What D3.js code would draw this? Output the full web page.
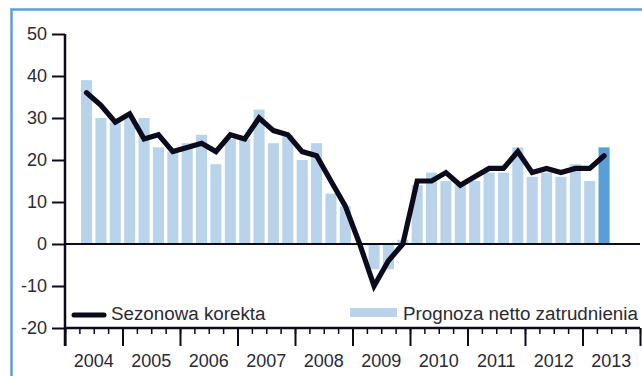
<!DOCTYPE html>
<html>
<head>
<meta charset="utf-8">
<script src="https://cdn.jsdelivr.net/npm/d3@7"></script>
<style>
  html, body { margin: 0; padding: 0; background: #ffffff; }
  svg { display: block; }
  text { font-family: "Liberation Sans", Arial, Helvetica, sans-serif; }
</style>
</head>
<body>
<svg id="chart" width="642" height="376"></svg>
<script>
// Years on the axis; each year holds four quarters
const years = ["2004", "2005", "2006", "2007", "2008", "2009", "2010", "2011", "2012", "2013"];
const quarterNames = ["Q1", "Q2", "Q3", "Q4"];

// First surveyed quarter (2004 Q2)
const firstQuarter = "2004 Q2";

// Net employment outlook (bars), from 2004 Q2 to 2013 Q2
const forecast = [
  39, 30, 29,
  30, 30, 23, 22,
  24, 26, 19, 25,
  25, 32, 24, 26,
  20, 24, 12, 9,
  0, -6, -6, 1,
  14, 17, 15, 14,
  15, 17, 17, 23,
  16, 17, 16, 19,
  15, 23
];

// Seasonally adjusted outlook (line), same quarters
const seasonal = [
  36, 33, 29,
  31, 25, 26, 22,
  23, 24, 22, 26,
  25, 30, 27, 26,
  22, 21, 15, 9,
  0, -10, -4, 0,
  15, 15, 17, 14,
  16, 18, 18, 22,
  17, 18, 17, 18,
  18, 21
];

const yTicks = [50, 40, 30, 20, 10, 0, -10, -20];
const legendLine = "Sezonowa korekta";
const legendBars = "Prognoza netto zatrudnienia";

const svg = d3.select("#chart");
const ink = "#0b0b1c";
const textColor = "#2b2a33";

// Outer frame
svg.append("rect")
  .attr("x", 11.5).attr("y", 9.5)
  .attr("width", 700).attr("height", 500)
  .attr("fill", "none")
  .attr("stroke", "#5b9fd6")
  .attr("stroke-width", 2.5);

const plotLeft = 65, plotRight = 640, plotTop = 34, plotBottom = 328;

// Quarter slots along the axis
const allQuarters = years.flatMap(yr => quarterNames.map(q => `${yr} ${q}`));
const start = allQuarters.indexOf(firstQuarter);
const dataQuarters = allQuarters.slice(start, start + forecast.length);
const rows = dataQuarters.map((q, i) => ({ q, bar: forecast[i], line: seasonal[i], last: i === forecast.length - 1 }));

const x = d3.scaleBand().domain(allQuarters).range([plotLeft, plotRight]).paddingInner(0.23).paddingOuter(0.115);
const xPos = d3.scaleLinear().domain([0, allQuarters.length]).range([plotLeft, plotRight]);
const xYear = d3.scaleBand().domain(years).range([plotLeft, plotRight]);
const y = d3.scaleLinear().domain([-20, 50]).range([plotBottom, plotTop]);

// Bars
svg.append("g").selectAll("rect")
  .data(rows)
  .join("rect")
  .attr("x", d => x(d.q))
  .attr("width", x.bandwidth())
  .attr("y", d => y(Math.max(0, d.bar)))
  .attr("height", d => Math.abs(y(d.bar) - y(0)))
  .attr("fill", d => d.last ? "#579fd6" : "#b9d3ea");

// Zero line
svg.append("line")
  .attr("x1", plotLeft).attr("x2", plotRight)
  .attr("y1", y(0)).attr("y2", y(0))
  .attr("stroke", ink).attr("stroke-width", 2);

// Seasonally adjusted line
const line = d3.line()
  .x(d => x(d.q) + x.bandwidth() / 2)
  .y(d => y(d.line));
svg.append("path")
  .datum(rows)
  .attr("d", line)
  .attr("fill", "none")
  .attr("stroke", ink)
  .attr("stroke-width", 5.2)
  .attr("stroke-linejoin", "miter")
  .attr("stroke-linecap", "round");

// Y axis
const yAxis = svg.append("g")
  .attr("transform", `translate(${plotLeft},0)`)
  .call(d3.axisLeft(y).tickValues(yTicks).tickSize(13).tickPadding(5).tickFormat(d => String(d)));
yAxis.select(".domain").remove();
yAxis.selectAll(".tick line").attr("stroke", ink).attr("stroke-width", 2);
yAxis.selectAll(".tick text")
  .attr("fill", textColor)
  .style("font-size", "18px");
svg.append("line")
  .attr("x1", plotLeft).attr("x2", plotLeft)
  .attr("y1", plotTop).attr("y2", plotBottom + 18)
  .attr("stroke", ink).attr("stroke-width", 2.5);

// X axis: quarter ticks and year ticks
const minor = svg.append("g")
  .attr("transform", `translate(0,${plotBottom})`)
  .call(d3.axisBottom(xPos).tickValues(d3.range(0, allQuarters.length + 1)).tickSize(6).tickFormat(""));
minor.select(".domain").remove();
minor.selectAll(".tick line").attr("stroke", ink).attr("stroke-width", 1.5);

const major = svg.append("g")
  .attr("transform", `translate(0,${plotBottom})`)
  .call(d3.axisBottom(xPos).tickValues(d3.range(0, allQuarters.length + 1, 4)).tickSize(18).tickFormat(""));
major.select(".domain").remove();
major.selectAll(".tick line").attr("stroke", ink).attr("stroke-width", 2);

svg.append("line")
  .attr("x1", plotLeft).attr("x2", plotRight)
  .attr("y1", plotBottom).attr("y2", plotBottom)
  .attr("stroke", ink).attr("stroke-width", 2.5);

const yearAxis = svg.append("g")
  .attr("transform", `translate(0,${plotBottom})`)
  .call(d3.axisBottom(xYear).tickSize(0).tickPadding(26));
yearAxis.select(".domain").remove();
yearAxis.selectAll(".tick text")
  .attr("fill", textColor)
  .style("font-size", "18px");

// Legend
const legend = svg.append("g");
legend.append("line")
  .attr("x1", 74).attr("x2", 104)
  .attr("y1", 315).attr("y2", 315)
  .attr("stroke", ink).attr("stroke-width", 5).attr("stroke-linecap", "round");
legend.append("text")
  .attr("x", 111).attr("y", 320)
  .attr("fill", textColor)
  .style("font-size", "18.8px")
  .text(legendLine);
legend.append("rect")
  .attr("x", 350).attr("y", 308)
  .attr("width", 47).attr("height", 9)
  .attr("fill", "#b9d3ea");
legend.append("text")
  .attr("x", 403).attr("y", 320)
  .attr("fill", textColor)
  .style("font-size", "18.8px")
  .text(legendBars);
</script>
</body>
</html>
